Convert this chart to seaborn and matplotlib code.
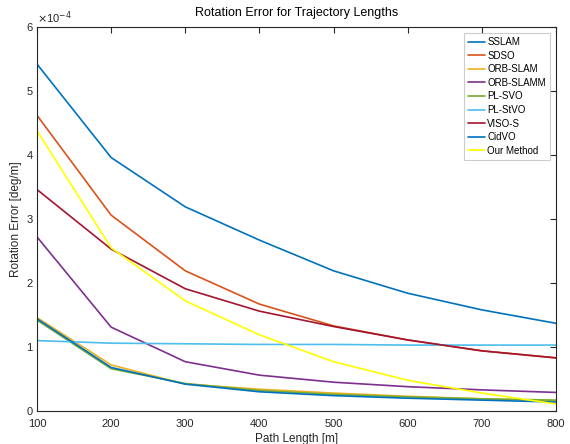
import matplotlib
matplotlib.use("Agg")
import matplotlib.pyplot as plt
import seaborn as sns
import pandas as pd
import numpy as np

path_lengths = [100, 200, 300, 400, 500, 600, 700, 800]

sslam      = [5.42, 3.96, 3.19, 2.67, 2.19, 1.84, 1.58, 1.37]
sdso       = [4.62, 3.06, 2.19, 1.67, 1.33, 1.11, 0.94, 0.83]
orb_slam   = [1.46, 0.72, 0.42, 0.34, 0.28, 0.23, 0.19, 0.16]
orb_slamm  = [2.72, 1.31, 0.77, 0.56, 0.45, 0.38, 0.33, 0.29]
pl_svo     = [1.42, 0.66, 0.43, 0.32, 0.26, 0.22, 0.19, 0.17]
pl_stvo    = [1.10, 1.06, 1.05, 1.04, 1.04, 1.03, 1.03, 1.03]
viso_s     = [3.46, 2.53, 1.91, 1.56, 1.32, 1.11, 0.94, 0.83]
cidvo      = [1.44, 0.68, 0.42, 0.30, 0.24, 0.20, 0.17, 0.14]
our_method = [4.38, 2.55, 1.72, 1.19, 0.77, 0.48, 0.28, 0.11]

method_names = ["SSLAM", "SDSO", "ORB-SLAM", "ORB-SLAMM", "PL-SVO",
                "PL-StVO", "VISO-S", "CidVO", "Our Method"]
series = [sslam, sdso, orb_slam, orb_slamm, pl_svo, pl_stvo, viso_s, cidvo, our_method]
colors = ["#0072BD", "#D95319", "#EDB120", "#7E2F8E", "#77AC30",
          "#4DBEEE", "#A2142F", "#0072BD", "#FFFF00"]

rows = []
for name, vals in zip(method_names, series):
    for x, v in zip(path_lengths, vals):
        rows.append({"Path Length": x, "Error": v * 1e-4, "Method": name})
df = pd.DataFrame(rows)

sns.set_theme(style="white")
plt.rcParams["font.family"] = ["Liberation Sans", "DejaVu Sans"]

fig = plt.figure(figsize=(5.70, 4.44), dpi=100)
ax = fig.add_axes([37 / 570, 33 / 444, 519 / 570, 384 / 444])

sns.lineplot(data=df, x="Path Length", y="Error", hue="Method",
             hue_order=method_names, palette=dict(zip(method_names, colors)),
             linewidth=1.2, ax=ax, legend=True)

ax.set_xlim(100, 800)
ax.set_ylim(0, 6e-4)
ax.set_xticks(path_lengths)
yt = np.arange(0, 7) * 1e-4
ax.set_yticks(yt)
ax.set_yticklabels([str(i) for i in range(7)])

axc = "#262626"
for s in ax.spines.values():
    s.set_visible(True)
    s.set_color(axc)
    s.set_linewidth(0.8)
ax.tick_params(direction="in", top=True, right=True, length=4, width=0.8,
               colors=axc, labelsize=8)
ax.tick_params(axis="x", pad=5.5)
ax.tick_params(axis="y", pad=3)
for lab in ax.get_xticklabels() + ax.get_yticklabels():
    lab.set_color(axc)

ax.set_xlabel("Path Length [m]", fontsize=8.5, color=axc, labelpad=3)
ax.set_ylabel("Rotation Error [deg/m]", fontsize=8.5, color=axc, labelpad=3)
ax.set_title("Rotation Error for Trajectory Lengths", fontsize=9, color="black", pad=8)

ax.text(0.0, 1.003, r"$\times$10$^{-4}$", transform=ax.transAxes, fontsize=8,
        color=axc, ha="left", va="bottom")

leg = ax.legend(loc="upper right", bbox_to_anchor=(0.988, 0.984),
                fontsize=7, frameon=True, fancybox=False,
                edgecolor="#c0c0c0", handlelength=1.75, handletextpad=0.2,
                labelspacing=0.37, borderpad=0.4, borderaxespad=0.0)
leg.get_frame().set_linewidth(0.8)
for t in leg.get_texts():
    t.set_color("black")

fig.savefig("out.png", dpi=100)
